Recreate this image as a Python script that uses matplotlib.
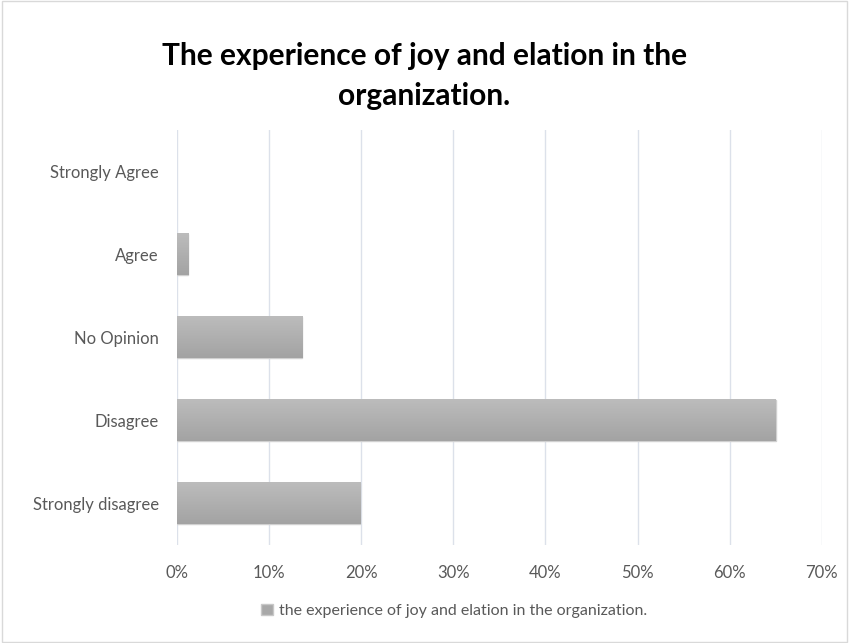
# Horizontal bar chart: joy and elation in the organization
import numpy as np
import matplotlib
matplotlib.use('Agg')
import matplotlib.pyplot as plt
from matplotlib.patches import Rectangle
from matplotlib.colors import LinearSegmentedColormap

categories = ['Strongly disagree', 'Disagree', 'No Opinion', 'Agree', 'Strongly Agree']
values = [19.9, 65.0, 13.6, 1.2, 0.0]
xticks = [0, 10, 20, 30, 40, 50, 60, 70]
series_name = 'the experience of joy and elation in the organization.'

plt.rcParams['font.family'] = ['Lato', 'DejaVu Sans']

fig = plt.figure(figsize=(8.49, 6.43), dpi=100)
ax = fig.add_axes([0.2085, 0.152, 0.7595, 0.646])

# frame around the figure
fig.patches.append(Rectangle((0.002, 0.002), 0.996, 0.996, transform=fig.transFigure,
                             fill=False, edgecolor='#d9d9d9', linewidth=1))

y = np.arange(len(categories))
bar_h = 0.5
bars = ax.barh(y, values, height=bar_h, color='#b0b0b0', edgecolor='#d0d0d0',
               linewidth=1, zorder=2)

# vertical gradient fill inside each bar (light top, darker bottom)
bar_cmap = LinearSegmentedColormap.from_list('bar', ['#bcbcbc', '#a3a3a3'])
grad = np.linspace(0, 1, 50).reshape(-1, 1)
for b in bars:
    w = b.get_width()
    if w <= 0:
        b.set_linewidth(0)
        continue
    y0 = b.get_y()
    ax.imshow(grad, extent=(0, w, y0, y0 + bar_h), aspect='auto', cmap=bar_cmap,
              zorder=2.5, origin='upper')

ax.set_xlim(0, 70)
ax.set_ylim(-0.5, len(categories) - 0.5)
ax.set_xticks(xticks)
ax.set_xticklabels([f'{t}%' for t in xticks])
ax.set_yticks(y)
ax.set_yticklabels(categories)
ax.tick_params(axis='both', length=0, colors='#595959', labelsize=12)
ax.tick_params(axis='x', pad=14)
ax.tick_params(axis='y', pad=13)
ax.grid(axis='x', color='#dce1ea', linewidth=1, zorder=0)
for s in ax.spines.values():
    s.set_visible(False)

fig.text(0.5, 0.882, 'The experience of joy and elation in the\norganization.',
         ha='center', va='center', fontsize=21.5, fontweight='bold', color='black',
         linespacing=1.5)

handle = Rectangle((0, 0), 1, 1, facecolor='#a8a8a8', edgecolor='#c8c8c8')
fig.legend([handle], [series_name], loc='center', bbox_to_anchor=(0.535, 0.05),
           frameon=False, fontsize=11.5, labelcolor='#595959', handlelength=0.7,
           handleheight=0.7, handletextpad=0.4)

fig.savefig('out.png', dpi=100)
